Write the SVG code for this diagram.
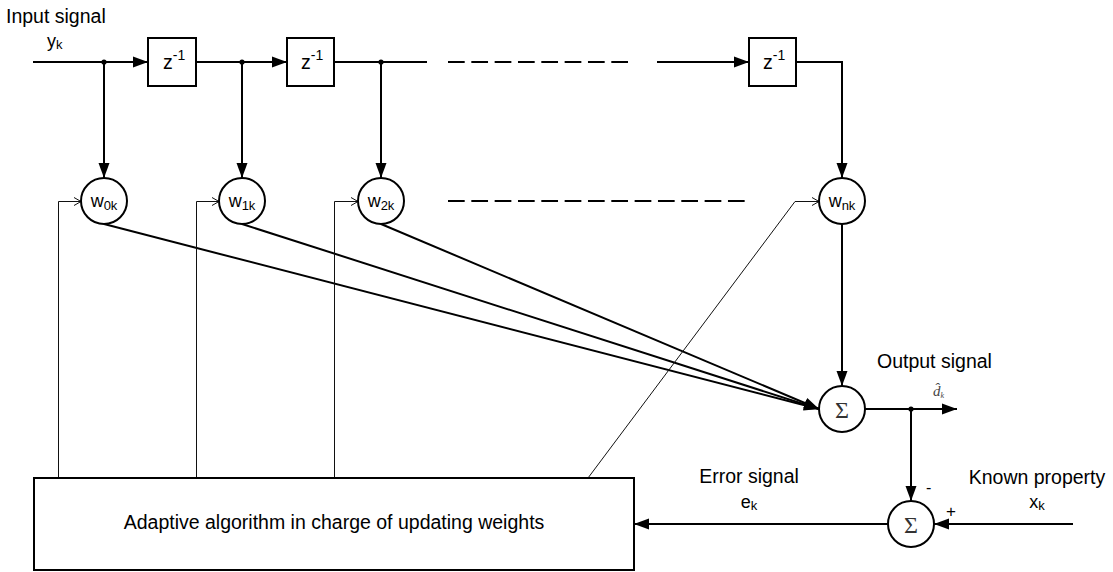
<svg xmlns="http://www.w3.org/2000/svg" width="1113" height="572" viewBox="0 0 1113 572">
  <style>
    .lbl { font-family: "Liberation Sans", Arial, sans-serif; font-size: 19.5px; fill: #000; }
    .sub { font-size: 13px; }
    .sup { font-size: 14px; }
    .wl { font-family: "Liberation Sans", Arial, sans-serif; font-size: 18px; fill: #000; text-anchor: middle; }
    .sig { font-family: "Liberation Serif", "Times New Roman", serif; font-size: 24px; fill: #333; text-anchor: middle; }
    .blk { fill: #fff; stroke: #000; stroke-width: 2; }
    .wire { fill: none; stroke: #000; stroke-width: 2; }
    .thin { fill: none; stroke: #111; stroke-width: 1; }
    .dash { fill: none; stroke: #000; stroke-width: 2; stroke-dasharray: 16.7 6.63; }
  </style>
  <defs>
    <marker id="tri" markerUnits="userSpaceOnUse" markerWidth="15" markerHeight="12" refX="15" refY="6" orient="auto">
      <path d="M0,0.5 L15,6 L0,11.5 z" fill="#000"/>
    </marker>
    <marker id="open" markerUnits="userSpaceOnUse" markerWidth="9" markerHeight="10" refX="8" refY="5" orient="auto">
      <path d="M1,1 L8,5 L1,9" fill="none" stroke="#111" stroke-width="1"/>
    </marker>
  </defs>

  <rect width="1113" height="572" fill="#fff"/>

  <!-- connectors -->
  <g id="connectors">
    <!-- delay line -->
    <line class="wire" x1="33" y1="62" x2="148" y2="62" marker-end="url(#tri)"/>
    <line class="wire" x1="196" y1="62" x2="287" y2="62" marker-end="url(#tri)"/>
    <line class="wire" x1="334" y1="62" x2="427" y2="62"/>
    <line class="dash" x1="448" y1="62" x2="629" y2="62"/>
    <line class="wire" x1="657" y1="62" x2="749" y2="62" marker-end="url(#tri)"/>
    <polyline class="wire" points="796,62 842,62 842,178" marker-end="url(#tri)"/>
    <!-- taps -->
    <line class="wire" x1="104" y1="62" x2="104" y2="178" marker-end="url(#tri)"/>
    <line class="wire" x1="242" y1="62" x2="242" y2="178" marker-end="url(#tri)"/>
    <line class="wire" x1="381" y1="62" x2="381" y2="178" marker-end="url(#tri)"/>
    <circle cx="104" cy="62" r="2.6" fill="#000"/>
    <circle cx="242" cy="62" r="2.6" fill="#000"/>
    <circle cx="381" cy="62" r="2.6" fill="#000"/>
    <!-- dashed placeholder between weights -->
    <line class="dash" x1="448" y1="201" x2="745" y2="201"/>
    <!-- weighted taps into the summer -->
    <line class="wire" x1="104" y1="224" x2="819" y2="409" marker-end="url(#tri)"/>
    <line class="wire" x1="242" y1="224" x2="819" y2="409" marker-end="url(#tri)"/>
    <line class="wire" x1="381" y1="224" x2="819" y2="409" marker-end="url(#tri)"/>
    <line class="wire" x1="842" y1="224" x2="842" y2="386" marker-end="url(#tri)"/>
    <!-- output and error path -->
    <line class="wire" x1="865" y1="409" x2="957" y2="409" marker-end="url(#tri)"/>
    <line class="wire" x1="911" y1="409" x2="911" y2="501" marker-end="url(#tri)"/>
    <circle cx="911" cy="409" r="2.6" fill="#000"/>
    <line class="wire" x1="1073" y1="524" x2="934" y2="524" marker-end="url(#tri)"/>
    <line class="wire" x1="888" y1="524" x2="634" y2="524" marker-end="url(#tri)"/>
    <!-- weight updates -->
    <polyline class="thin" points="58.5,478 58.5,201.5 81,201.5" marker-end="url(#open)"/>
    <polyline class="thin" points="196.5,478 196.5,201.5 219,201.5" marker-end="url(#open)"/>
    <polyline class="thin" points="334.5,478 334.5,201.5 358,201.5" marker-end="url(#open)"/>
    <polyline class="thin" points="588,478 795,201.5 819,201.5" marker-end="url(#open)"/>
  </g>

  <!-- delay elements -->
  <g id="delay1">
    <rect class="blk" x="148" y="38" width="48" height="48"/>
    <text class="lbl" x="163" y="69">z<tspan class="sup" dy="-9">-1</tspan></text>
  </g>
  <g id="delay2">
    <rect class="blk" x="287" y="38" width="47" height="48"/>
    <text class="lbl" x="301" y="69">z<tspan class="sup" dy="-9">-1</tspan></text>
  </g>
  <g id="delay3">
    <rect class="blk" x="749" y="38" width="47" height="48"/>
    <text class="lbl" x="763" y="69">z<tspan class="sup" dy="-9">-1</tspan></text>
  </g>

  <!-- weights -->
  <g id="w0">
    <circle class="blk" cx="104" cy="201" r="23"/>
    <text class="wl" x="104" y="207">w<tspan class="sub" dy="2.5">0k</tspan></text>
  </g>
  <g id="w1">
    <circle class="blk" cx="242" cy="201" r="23"/>
    <text class="wl" x="242" y="207">w<tspan class="sub" dy="2.5">1k</tspan></text>
  </g>
  <g id="w2">
    <circle class="blk" cx="381" cy="201" r="23"/>
    <text class="wl" x="381" y="207">w<tspan class="sub" dy="2.5">2k</tspan></text>
  </g>
  <g id="wn">
    <circle class="blk" cx="842" cy="201" r="23"/>
    <text class="wl" x="842" y="207">w<tspan class="sub" dy="2.5">nk</tspan></text>
  </g>

  <!-- summing junctions -->
  <g id="sum-output">
    <circle class="blk" cx="842" cy="409" r="23"/>
    <text class="sig" x="842" y="418">Σ</text>
  </g>
  <g id="sum-error">
    <circle class="blk" cx="911" cy="524" r="23"/>
    <text class="sig" x="911" y="533">Σ</text>
  </g>

  <!-- adaptive algorithm -->
  <g id="adaptive">
    <rect class="blk" x="34" y="478" width="600" height="92"/>
    <text class="lbl" x="334" y="529" text-anchor="middle">Adaptive algorithm in charge of updating weights</text>
  </g>

  <!-- signal labels -->
  <g id="labels">
    <text class="lbl" x="6" y="23">Input signal</text>
    <text class="lbl" x="47" y="47" style="font-size:18px">y<tspan class="sub" dy="2">k</tspan></text>
    <text class="lbl" x="877" y="368">Output signal</text>
    <text x="933" y="396" font-family="'Liberation Serif', 'Times New Roman', serif" font-style="italic" font-size="15" fill="#444">d&#x302;<tspan font-size="8" dy="2">k</tspan></text>
    <text class="lbl" x="749" y="483" text-anchor="middle">Error signal</text>
    <text class="lbl" x="749" y="508" text-anchor="middle" style="font-size:18px">e<tspan class="sub" dy="2">k</tspan></text>
    <text class="lbl" x="1037" y="484" text-anchor="middle">Known property</text>
    <text class="lbl" x="1037" y="508" text-anchor="middle" style="font-size:18px">x<tspan class="sub" dy="2">k</tspan></text>
    <text class="lbl" x="926" y="493" style="font-size:16px">-</text>
    <text class="lbl" x="946" y="517" style="font-size:17px">+</text>
  </g>
</svg>
